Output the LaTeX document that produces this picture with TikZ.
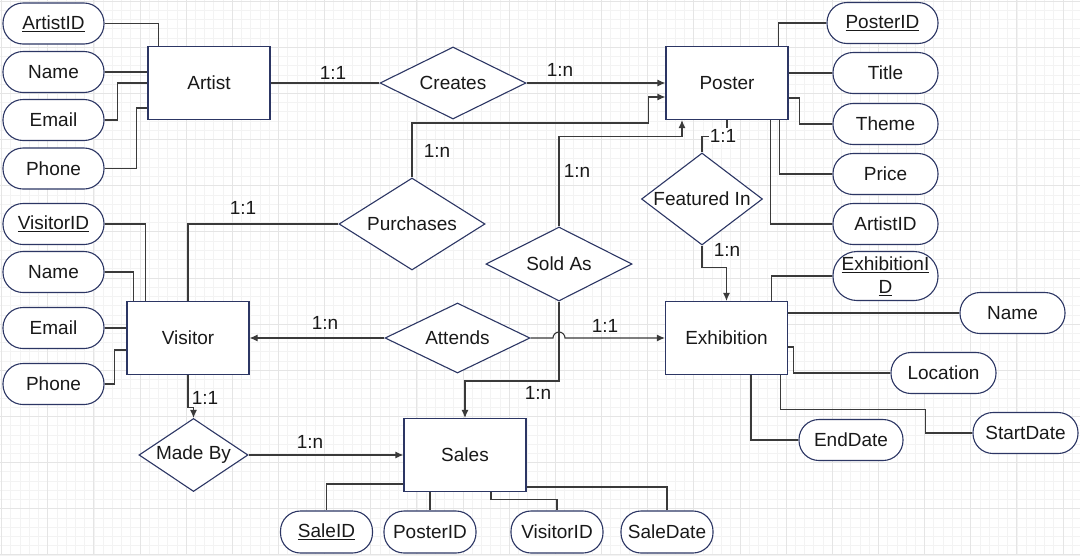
\documentclass[tikz,border=0pt]{standalone}
\usepackage{fontspec}
\setmainfont{Liberation Sans}
\usetikzlibrary{shapes.geometric,arrows.meta,calc}
\definecolor{erblue}{RGB}{44,54,100}
\definecolor{erline}{RGB}{58,58,58}
\definecolor{gridminor}{RGB}{243,243,243}
\definecolor{gridmajor}{RGB}{229,229,229}

\tikzset{
  entity/.style={draw=erblue, fill=white, line width=1.1pt, minimum width=122pt, minimum height=73pt},
  relation/.style={diamond, draw=erblue, fill=white, line width=1.1pt, inner sep=0pt},
  attr/.style={draw=erblue, fill=white, line width=1.1pt, rounded corners=20pt, minimum width=101pt, minimum height=41pt, inner sep=1pt},
  link/.style={draw=erline, line width=1.1pt},
  arr/.style={-{Latex[length=8pt,width=7pt]}},
  card/.style={inner sep=1pt},
}

\begin{document}
\begin{tikzpicture}[x=1pt, y=-1pt, font=\fontsize{19}{23}\selectfont, text=black!90]
\useasboundingbox[fill=white] (0,0) rectangle (1080,555);
% grid
\foreach \i in {0,...,116} \draw[gridminor, line width=0.6pt] ({1.5+9.23*\i},0) -- ++(0,555);
\foreach \i in {0,...,60} \draw[gridminor, line width=0.6pt] (0,{1+9.23*\i}) -- ++(1080,0);
\foreach \i in {0,...,23} \draw[gridmajor, line width=0.8pt] ({1.5+46.15*\i},0) -- ++(0,555);
\foreach \i in {0,...,12} \draw[gridmajor, line width=0.8pt] (0,{1+46.15*\i}) -- ++(1080,0);

% entities
\node[entity] (artist) at (209,83) {Artist};
\node[entity] (poster) at (727,83) {Poster};
\node[entity] (visitor) at (188,338) {Visitor};
\node[entity] (exhibition) at (726.5,338) {Exhibition};
\node[entity] (sales) at (465,455) {Sales};

% relations
\node[relation, minimum width=146pt, minimum height=72pt] (creates) at (453,83) {\makebox[0pt]{Creates}};
\node[relation, minimum width=146pt, minimum height=92pt] (purchases) at (412,224) {\makebox[0pt]{Purchases}};
\node[relation, minimum width=146pt, minimum height=74pt] (soldas) at (559,264) {\makebox[0pt]{Sold As}};
\node[relation, minimum width=121pt, minimum height=92pt] (featured) at (702,199) {\makebox[0pt]{Featured In}};
\node[relation, minimum width=145pt, minimum height=70pt] (attends) at (457.5,338) {\makebox[0pt]{Attends}};
\node[relation, minimum width=109pt, minimum height=73pt] (madeby) at (193.5,455) {\makebox[0pt]{Made By}};

% attributes
\node[attr] (artistid) at (53.5,23.5) {\underline{ArtistID}};
\node[attr] (aname) at (53.5,72) {Name};
\node[attr] (aemail) at (53.5,120) {Email};
\node[attr] (aphone) at (53.5,168.5) {Phone};

\node[attr, minimum width=111pt] (posterid) at (882.5,23) {\underline{PosterID}};
\node[attr, minimum width=105pt] (title) at (885.5,73) {Title};
\node[attr, minimum width=105pt] (theme) at (885.5,124) {Theme};
\node[attr, minimum width=105pt] (price) at (885.5,174) {Price};
\node[attr, minimum width=105pt] (partistid) at (885.5,224) {ArtistID};

\node[attr, minimum width=105pt, minimum height=49pt, rounded corners=24pt, align=center] (exhid) at (885.5,276) {\underline{ExhibitionI}\\\underline{D}};
\node[attr, minimum width=105pt] (ename) at (1012.5,313) {Name};
\node[attr, minimum width=105pt] (elocation) at (943.5,373) {Location};
\node[attr, minimum width=105pt] (estart) at (1025.5,433) {StartDate};
\node[attr, minimum width=104pt] (eend) at (851,440) {EndDate};

\node[attr] (vid) at (53.5,224) {\underline{VisitorID}};
\node[attr] (vname) at (53.5,272) {Name};
\node[attr] (vemail) at (53.5,328) {Email};
\node[attr] (vphone) at (53.5,384) {Phone};

\node[attr, minimum width=92pt, minimum height=42pt] (saleid) at (326.5,532) {\underline{SaleID}};
\node[attr, minimum width=92pt, minimum height=42pt] (sposterid) at (430,532) {PosterID};
\node[attr, minimum width=92pt, minimum height=42pt] (svisitorid) at (557,532) {VisitorID};
\node[attr, minimum width=92pt, minimum height=42pt] (ssaledate) at (667,532) {SaleDate};

% attribute links
\draw[link] (artistid.east) -| ($(artist.north west)+(11,0)$);
\draw[link] (aname.east) -- (aname.east -| artist.west);
\draw[link] (aemail.east) -- ++(13,0) |- (artist.west);
\draw[link] (aphone.east) -- ++(32,0) |- ($(artist.west)+(0,25)$);

\draw[link] ($(poster.north east)+(-10,0)$) |- (posterid.west);
\draw[link] (title.west -| poster.east) -- (title.west);
\draw[link] ($(poster.east)+(0,15)$) -- ++(11,0) |- (theme.west);
\draw[link] ($(poster.south east)+(-9,0)$) |- (price.west);
\draw[link] ($(poster.south east)+(-18,0)$) |- (partistid.west);

\draw[link] ($(exhibition.north east)+(-17,0)$) |- (exhid.west);
\draw[link] (ename.west -| exhibition.east) -- (ename.west);
\draw[link] ($(exhibition.east)+(0,9)$) -- ++(5,0) |- (elocation.west);
\draw[link] ($(exhibition.south east)+(-8,0)$) -- ++(0,34) -| ($(estart.west)+(-47,0)$) -- (estart.west);
\draw[link] ($(exhibition.south west)+(86,0)$) |- (eend.west);

\draw[link] (vid.east) -| ($(visitor.north west)+(19,0)$);
\draw[link] (vname.east) -| ($(visitor.north west)+(7,0)$);
\draw[link] (vemail.east) -- (vemail.east -| visitor.west);
\draw[link] (vphone.east) -- ++(10,0) |- ($(visitor.west)+(0,12)$);

\draw[link] ($(sales.west)+(0,29)$) -| (saleid.north);
\draw[link] (sposterid.north |- sales.south) -- (sposterid.north);
\draw[link] ($(sales.south)+(26,0)$) -- ++(0,7) -| (svisitorid.north);
\draw[link] ($(sales.east)+(0,32)$) -| (ssaledate.north);

% relation links
\draw[link] (artist.east) -- (creates.west);
\draw[link, arr] (creates.east) -- (poster.west);
\draw[link, arr] (purchases.north) |- ($(poster.west)+(-17,40)$) |- ($(poster.west)+(0,14)$);
\draw[link, arr] (soldas.north) |- ($(poster.south)+(-45,16)$) -- ($(poster.south)+(-45,0)$);
\draw[link] (poster.south) -- ++(0,16) -| (featured.north);
\draw[link, arr] (featured.south) -- ++(0,22) -| (exhibition.north);
\draw[link] (purchases.west) -| (visitor.north);
\draw[link, arr] (attends.west) -- (visitor.east);
\draw[link, arr] (attends.east) -- ($(soldas.south |- attends.east)+(-6,0)$) arc (180:360:6) -- (exhibition.west);
\draw[link, arr] (visitor.south) -- ++(0,32) -| (madeby.north);
\draw[link, arr] (madeby.east) -- (sales.west);
\draw[link, arr] (soldas.south) |- ($(sales.north)+(0,-37)$) -- (sales.north);

% cardinalities
\node[card] (c1) at (333,73) {1:1};
\node[card] (c2) at (560,70) {1:n};
\node[card] (c3) at (437,151) {1:n};
\node[card] (c4) at (577,171) {1:n};
\node[card, fill=white] (c5) at (723,136) {1:1};
\node[card] (c6) at (727,250) {1:n};
\node[card] (c7) at (243,208) {1:1};
\node[card] (c8) at (325,323) {1:n};
\node[card] (c9) at (605,326) {1:1};
\node[card] (c10) at (205,398) {1:1};
\node[card] (c11) at (310,442) {1:n};
\node[card] (c12) at (538,393) {1:n};
\end{tikzpicture}
\end{document}
